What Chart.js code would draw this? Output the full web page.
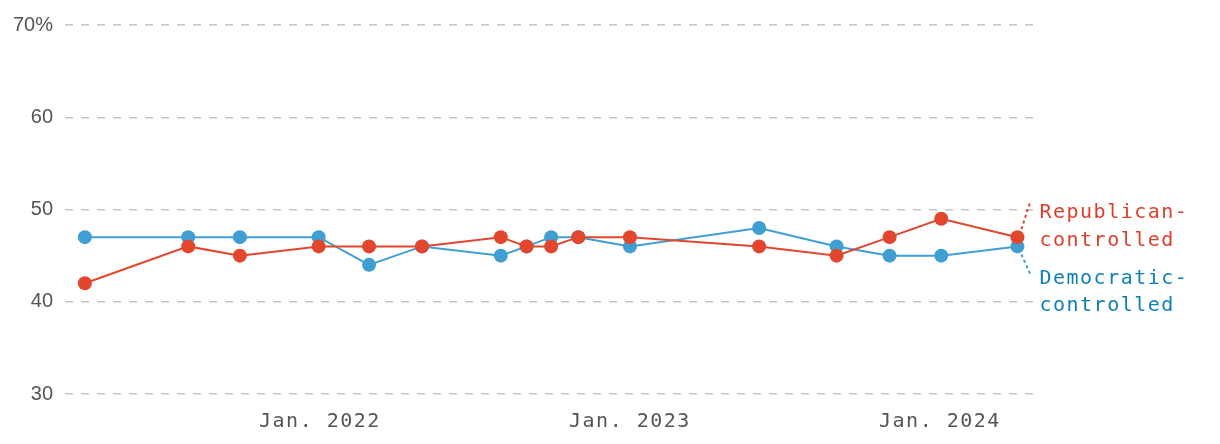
<!DOCTYPE html>
<html>
<head>
<meta charset="utf-8">
<script src="https://cdn.jsdelivr.net/npm/chart.js@4.4.1/dist/chart.umd.min.js"></script>
<style>
  html, body { margin: 0; padding: 0; background: #fff; }
  #wrap { width: 1220px; height: 444px; position: relative; }
</style>
</head>
<body>
<div id="wrap"><canvas id="trustChart"></canvas></div>
<script>
// months since Jan. 2021 (12 = Jan. 2022)
const surveyMonths = [2.9, 6.9, 8.9, 11.95, 13.9, 15.95, 19.0, 20.0, 20.95, 22.0, 24.0, 29.0, 32.0, 34.05, 36.05, 39.0];
const republican = [42, 46, 45, 46, 46, 46, 47, 46, 46, 47, 47, 46, 45, 47, 49, 47];
const democratic = [47, 47, 47, 47, 44, 46, 45, 46, 47, 47, 46, 48, 46, 45, 45, 46];
const xTickMonths = [12, 24, 36];
const xTickLabels = ['Jan. 2022', 'Jan. 2023', 'Jan. 2024'];
const yTicks = [30, 40, 50, 60, 70];

const RED = '#e2462c';
const BLUE = '#3f9fd3';
const MONO = '"DejaVu Sans Mono", "Liberation Mono", monospace';
const MONO_SPACING = '1.5px';

const toPoints = (vals) => vals.map((v, i) => ({ x: surveyMonths[i], y: v }));

// end-of-line labels with dotted leader lines
const endLabels = {
    id: 'endLabels',
    afterDatasetsDraw(chart) {
        const ctx = chart.ctx;
        const last = surveyMonths.length - 1;
        const rp = chart.getDatasetMeta(0).data[last];
        const dp = chart.getDatasetMeta(1).data[last];
        ctx.save();
        ctx.lineWidth = 2;
        ctx.setLineDash([3, 3]);
        ctx.strokeStyle = RED;
        ctx.beginPath();
        ctx.moveTo(rp.x + 4, rp.y - 8);
        ctx.lineTo(rp.x + 13, rp.y - 36);
        ctx.stroke();
        ctx.strokeStyle = BLUE;
        ctx.beginPath();
        ctx.moveTo(dp.x + 4, dp.y + 8);
        ctx.lineTo(dp.x + 13, dp.y + 28);
        ctx.stroke();
        ctx.setLineDash([]);

        ctx.font = '20px ' + MONO;
        ctx.letterSpacing = MONO_SPACING;
        ctx.textAlign = 'left';
        ctx.textBaseline = 'middle';
        const tx = rp.x + 22;
        ctx.fillStyle = '#d9412a';
        ctx.fillText('Republican-', tx, 213);
        ctx.fillText('controlled', tx, 241);
        ctx.fillStyle = '#0d80b8';
        ctx.fillText('Democratic-', tx, 279);
        ctx.fillText('controlled', tx, 306);
        ctx.restore();
    }
};

// wider letter spacing for the mono x tick labels only
const spacing = {
    id: 'spacing',
    afterLayout(chart) {
        const xs = chart.scales.x;
        if (xs._spaced) return;
        const orig = xs.drawLabels.bind(xs);
        xs.drawLabels = function(area) {
            chart.ctx.letterSpacing = MONO_SPACING;
            orig(area);
            chart.ctx.letterSpacing = '0px';
        };
        xs._spaced = true;
    }
};

const ctx = document.getElementById('trustChart').getContext('2d');
new Chart(ctx, {
    type: 'line',
    data: {
        datasets: [{
            label: 'Republican-controlled',
            data: toPoints(republican),
            borderColor: RED,
            backgroundColor: RED,
            pointBackgroundColor: RED,
            pointBorderWidth: 0,
            pointRadius: 7,
            borderWidth: 2,
            tension: 0
        }, {
            label: 'Democratic-controlled',
            data: toPoints(democratic),
            borderColor: BLUE,
            backgroundColor: BLUE,
            pointBackgroundColor: BLUE,
            pointBorderWidth: 0,
            pointRadius: 7,
            borderWidth: 2,
            tension: 0
        }]
    },
    options: {
        responsive: true,
        maintainAspectRatio: false,
        animation: false,
        layout: { padding: { top: 25, right: 185, left: 0, bottom: 0 } },
        plugins: {
            legend: { display: false },
            tooltip: { enabled: false }
        },
        scales: {
            x: {
                type: 'linear',
                min: 2.13,
                max: 39.68,
                grid: { display: false },
                border: { display: false },
                afterBuildTicks(axis) {
                    axis.ticks = xTickMonths.map(v => ({ value: v }));
                },
                afterFit(axis) { axis.height = 50; },
                ticks: {
                    autoSkip: false,
                    maxRotation: 0,
                    padding: 8,
                    color: '#555',
                    font: { family: MONO, size: 20 },
                    callback(value) {
                        const i = xTickMonths.indexOf(value);
                        return i >= 0 ? xTickLabels[i] : '';
                    }
                }
            },
            y: {
                min: 30,
                max: 70,
                afterBuildTicks(axis) {
                    axis.ticks = yTicks.map(v => ({ value: v }));
                },
                afterFit(axis) { axis.width = 65; },
                border: { display: false, dash: [8, 8] },
                grid: {
                    color: '#c6c6c6',
                    lineWidth: 1.5,
                    drawTicks: false
                },
                ticks: {
                    padding: 12,
                    color: '#555',
                    font: { family: '"Liberation Sans", Arial, sans-serif', size: 20 },
                    callback(value) { return value === 70 ? '70%' : value; }
                }
            }
        }
    },
    plugins: [spacing, endLabels]
});
</script>
</body>
</html>
